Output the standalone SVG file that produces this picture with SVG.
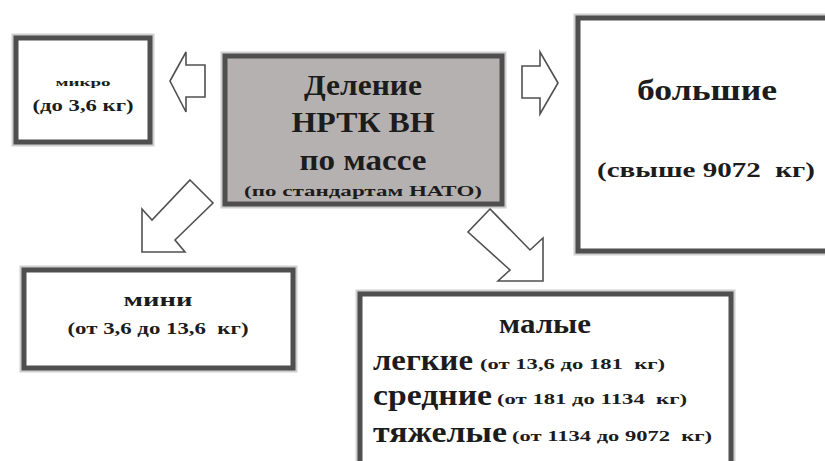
<svg xmlns="http://www.w3.org/2000/svg" width="825" height="461" viewBox="0 0 825 461">
<style>
  .box { fill: #ffffff; stroke: #4f4f4f; stroke-width: 5; }
  .halo { fill: none; stroke: #a8a8a8; stroke-width: 9; opacity: 0.55; }
  .center { fill: #b6b1b1; }
  .arrow { fill: #ffffff; stroke: #505050; stroke-width: 1.6; stroke-linejoin: miter; }
  text { font-family: "Liberation Serif", "Times New Roman", serif; font-weight: bold; fill: #1c1c1c; white-space: pre; }
  .mid { text-anchor: middle; }
</style>
<rect width="825" height="461" fill="#ffffff"/>
<g id="connectors">
  <polygon class="arrow" points="170,81 186,52 186,65 205,65 205,97 186,97 186,112"/>
  <polygon class="arrow" points="558,83 540,52 540,66 522,66 522,98 540,98 540,114"/>
  <polygon class="arrow" points="190,180 213,203 175,240 185,252 142,252 142,209 152,220"/>
  <polygon class="arrow" points="490,209 468,232 510,270 498,281 543,281 543,238 530,250"/>
</g>
<g id="node-micro">
  <rect class="halo" x="16" y="38" width="134" height="104"/>
  <rect class="box" x="16" y="38" width="134" height="104"/>
  <text class="mid" x="83" y="86" font-size="11" textLength="55" lengthAdjust="spacingAndGlyphs">микро</text>
  <text class="mid" x="83" y="111" font-size="17" textLength="101" lengthAdjust="spacingAndGlyphs">(до 3,6 кг)</text>
</g>
<g id="node-center">
  <rect class="halo" x="225" y="56" width="277" height="148"/>
  <rect class="box center" x="225" y="56" width="277" height="148"/>
  <text class="mid" x="363" y="95" font-size="30" textLength="118" lengthAdjust="spacingAndGlyphs">Деление</text>
  <text class="mid" x="363" y="132" font-size="30" textLength="143" lengthAdjust="spacingAndGlyphs">НРТК ВН</text>
  <text class="mid" x="363" y="170" font-size="30" textLength="127" lengthAdjust="spacingAndGlyphs">по массе</text>
  <text class="mid" x="363" y="196" font-size="14" fill="#3a3a3a" textLength="238" lengthAdjust="spacingAndGlyphs">(по стандартам НАТО)</text>
</g>
<g id="node-big">
  <rect class="halo" x="578" y="18" width="260" height="233"/>
  <rect class="box" x="578" y="18" width="260" height="233"/>
  <text class="mid" x="707" y="100" font-size="30" textLength="140" lengthAdjust="spacingAndGlyphs">большие</text>
  <text class="mid" x="706" y="177" font-size="21" textLength="218" lengthAdjust="spacingAndGlyphs">(свыше 9072  кг)</text>
</g>
<g id="node-mini">
  <rect class="halo" x="24" y="270" width="269" height="98"/>
  <rect class="box" x="24" y="270" width="269" height="98"/>
  <text class="mid" x="158" y="306" font-size="19" textLength="69" lengthAdjust="spacingAndGlyphs">мини</text>
  <text class="mid" x="158" y="334" font-size="17" textLength="181" lengthAdjust="spacingAndGlyphs">(от 3,6 до 13,6  кг)</text>
</g>
<g id="node-small">
  <rect class="halo" x="360" y="294" width="371" height="175"/>
  <rect class="box" x="360" y="294" width="371" height="175"/>
  <text class="mid" x="545" y="333" font-size="28" textLength="92" lengthAdjust="spacingAndGlyphs">малые</text>
  <text x="373" y="370" font-size="30" textLength="100" lengthAdjust="spacingAndGlyphs">легкие</text>
  <text x="480" y="369" font-size="15" textLength="185" lengthAdjust="spacingAndGlyphs">(от 13,6 до 181  кг)</text>
  <text x="373" y="405" font-size="30" textLength="119" lengthAdjust="spacingAndGlyphs">средние</text>
  <text x="497" y="404" font-size="15" textLength="190" lengthAdjust="spacingAndGlyphs">(от 181 до 1134  кг)</text>
  <text x="373" y="442" font-size="30" textLength="134" lengthAdjust="spacingAndGlyphs">тяжелые</text>
  <text x="512" y="441" font-size="15" textLength="200" lengthAdjust="spacingAndGlyphs">(от 1134 до 9072  кг)</text>
</g>
</svg>
